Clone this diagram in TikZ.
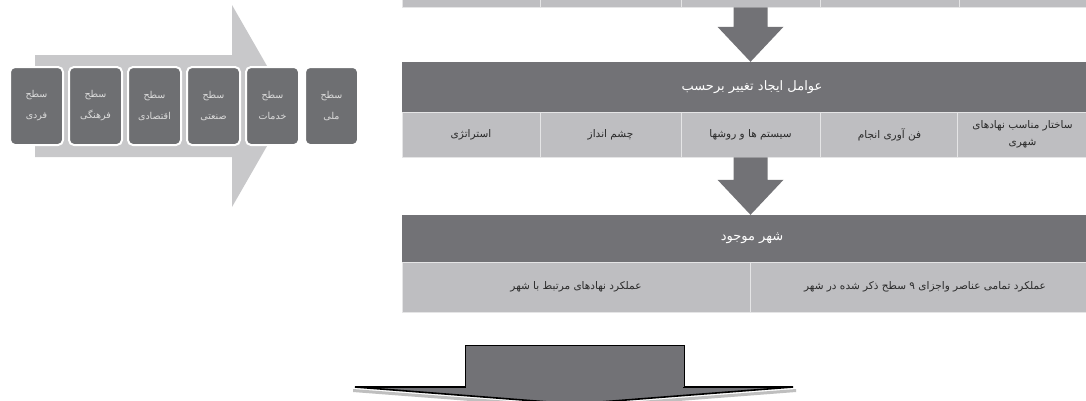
\documentclass[tikz,border=0pt]{standalone}
\usepackage{fontspec}
\TeXXeTstate=1
\newfontfamily\arabicfont[Script=Arabic]{DejaVu Sans}
\newcommand{\fa}[1]{{\arabicfont\beginR #1\endR}}
\definecolor{darkg}{HTML}{727276}
\definecolor{lightg}{HTML}{BEBEC1}
\definecolor{arrowg}{HTML}{C8C8CA}
\definecolor{boxg}{HTML}{6E6F72}
\definecolor{boxtxt}{HTML}{DCDCDC}
\definecolor{celltxt}{HTML}{2A2A2A}
\usetikzlibrary{calc}
\tikzset{
  cell/.style={fill=lightg, draw=white!60!lightg, line width=0.8pt, inner sep=0pt,
    minimum height=#1, align=center, text=celltxt,
    font=\arabicfont\fontsize{10.5}{17}\selectfont},
  cell/.default=45pt,
  bar/.style={fill=darkg, inner sep=0pt, minimum height=#1, text=white,
    font=\arabicfont\fontsize{13}{15}\selectfont},
  lvl/.style={fill=boxg, draw=white, line width=2pt, rounded corners=5pt, inner sep=0pt,
    minimum width=53pt, minimum height=78pt, align=center, text=boxtxt,
    font=\arabicfont\fontsize{9.5}{21}\selectfont},
  blockfill/.style={fill=darkg}
}
\newcommand{\downblock}[2]{%
  \fill[blockfill] ([xshift=-17pt]#1) -- ([xshift=17pt]#1)
    -- ([xshift=17pt,yshift=35pt]#2) -- ([xshift=33pt,yshift=35pt]#2)
    -- (#2) -- ([xshift=-33pt,yshift=35pt]#2)
    -- ([xshift=-17pt,yshift=35pt]#2) -- cycle;}
\begin{document}
\begin{tikzpicture}[x=1pt,y=-1pt]
\useasboundingbox (0,0) rectangle (1086,400);
\fill[white] (0,0) rectangle (1086,400);

% ---- left: big light arrow with levels
\fill[arrowg] (35,55) -- (232,55) -- (232,5) -- (290,106) -- (232,207) -- (232,157) -- (35,157) -- cycle;
\node[lvl] (l1) at (36.5,106)  {\fa{سطح}\\ \fa{فردی}};
\node[lvl] (l2) at (95.5,106)  {\fa{سطح}\\ \fa{فرهنگی}};
\node[lvl] (l3) at (154.5,106) {\fa{سطح}\\ \fa{اقتصادی}};
\node[lvl] (l4) at (213.5,106) {\fa{سطح}\\ \fa{صنعتی}};
\node[lvl] (l5) at (272.5,106) {\fa{سطح}\\ \fa{خدمات}};
\node[lvl] (l6) at (331.5,106) {\fa{سطح}\\ \fa{ملی}};

% ---- top row (cut off)
\node[cell, minimum width=138pt] (r0a) at (471,-15.5) {};
\node[cell, minimum width=141pt] (r0b) at (610.5,-15.5) {};
\node[cell, minimum width=139pt] (r0c) at (750.5,-15.5) {};
\node[cell, minimum width=139pt] (r0d) at (889.5,-15.5) {};
\node[cell, minimum width=141pt] (r0e) at (1029.5,-15.5) {};

% ---- bar 1
\node[bar=50pt, minimum width=700pt] (bar1) at (752,87) {\fa{عوامل ایجاد تغییر برحسب}};
\node[cell, minimum width=138pt] (r1a) at (471,134.5) {\fa{استراتژی}};
\node[cell, minimum width=141pt] (r1b) at (610.5,134.5) {\fa{چشم انداز}};
\node[cell, minimum width=139pt] (r1c) at (750.5,134.5) {\fa{سیستم ها و روشها}};
\node[cell, minimum width=139pt] (r1d) at (889.5,134.5) {\fa{فن آوری انجام}};
\node[cell, minimum width=131pt] (r1e) at (1022.5,134.5) {\fa{ساختار مناسب نهادهای}\\ \fa{شهری}};

% ---- bar 2
\node[bar=47pt, minimum width=700pt] (bar2) at (752,238.5) {\fa{شهر موجود}};
\node[cell=50pt, minimum width=348pt] (r2a) at (576,287) {\fa{عملکرد نهادهای مرتبط با شهر}};
\node[cell=50pt, minimum width=350pt] (r2b) at (925,287) {\fa{عملکرد تمامی عناصر واجزای ۹ سطح ذکر شده در شهر}};

% ---- block arrows between bars
\coordinate (t1) at (r0c.south |- bar1.north);
\coordinate (t2) at (r1c.south |- bar2.north);
\downblock{r0c.south}{t1}
\downblock{r1c.south}{t2}

% ---- bottom outgoing block arrow
\coordinate (bt) at (574.5,345);
\fill[black!25] (353,389) -- (574.5,406) -- (796,389) -- (796,392) -- (574.5,409) -- (353,392) -- cycle;
\filldraw[fill=darkg, draw=black, line width=1.6pt, line join=miter]
  (355,387) -- (793,387) -- (574.5,404) -- cycle;
\filldraw[fill=darkg, draw=black, line width=0.9pt]
  (465,387) -- (bt -| 465,0) -- (bt -| 684,0) -- (684,387);
\fill[darkg] (466,386) rectangle (683,392);
\end{tikzpicture}
\end{document}
